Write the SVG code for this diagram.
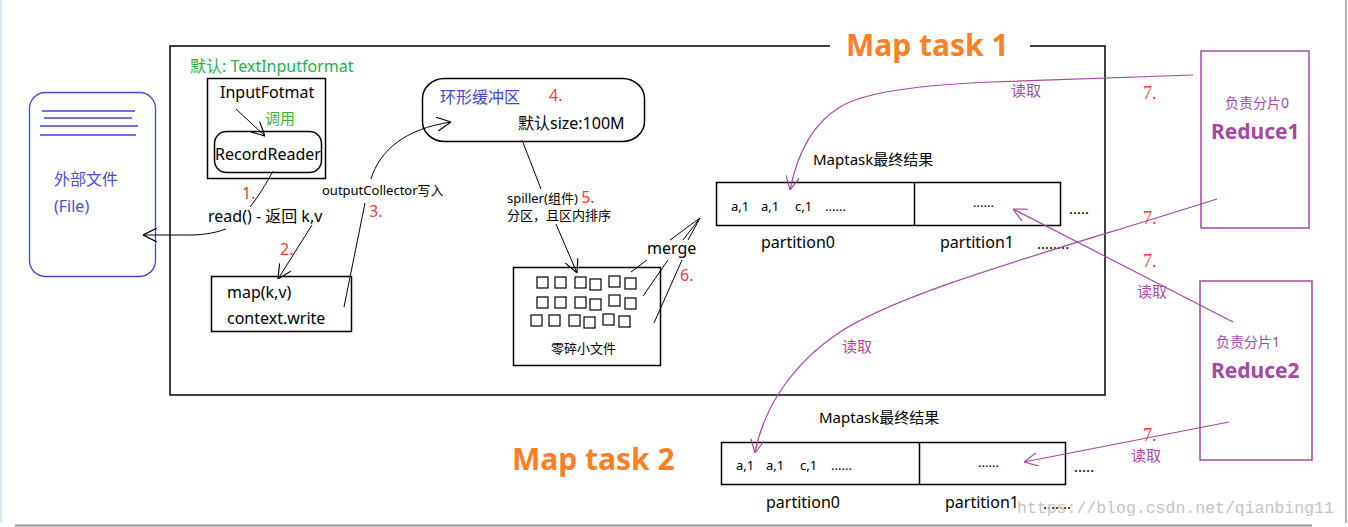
<svg xmlns="http://www.w3.org/2000/svg" width="1348" height="527" viewBox="0 0 1348 527">
<style>
.t{font-family:"Noto Sans","Noto Sans CJK SC",sans-serif;fill:#000}
.box{fill:none;stroke:#000;stroke-width:1.5}
.ln{fill:none;stroke:#000;stroke-width:1}
.pl{fill:none;stroke:#A349A4;stroke-width:1.2}
.pbox{fill:none;stroke:#A349A4;stroke-width:1.5}
.red{font-family:"Noto Sans",sans-serif;fill:#EF3B3B;font-size:16px}
.red7{font-family:"Liberation Serif",serif;fill:#EF3B3B;font-size:18px}
.rd{font-family:"Noto Sans CJK SC",sans-serif;fill:#A349A4;font-size:15px}
.org{font-family:"Noto Sans",sans-serif;font-weight:bold;fill:#FF7F27;font-size:30px}
.sq{fill:#fff;stroke:#000;stroke-width:1.2}
</style>
<defs>
<marker id="ak" markerUnits="userSpaceOnUse" markerWidth="14" markerHeight="14" viewBox="0 0 12 12" refX="12" refY="6" orient="auto">
<path d="M0,0 L12,6 L0,12" fill="none" stroke="#000" stroke-width="1"/>
</marker>
<marker id="ap" markerUnits="userSpaceOnUse" markerWidth="14" markerHeight="14" viewBox="0 0 12 12" refX="12" refY="6" orient="auto">
<path d="M0,0 L12,6 L0,12" fill="none" stroke="#A349A4" stroke-width="1"/>
</marker>
</defs>
<rect x="0" y="0" width="1348" height="527" fill="#fff"/>
<rect x="0" y="0" width="2" height="523" fill="#dce6f2"/>
<line x1="15" y1="525.5" x2="1312" y2="525.5" stroke="#9a9a9a" stroke-width="2"/>
<line x1="1346" y1="0" x2="1346" y2="523" stroke="#b0b0b0" stroke-width="2"/>

<g id="maptask1-frame">
<path class="box" d="M830,46 L170,46 L170,395 L1105,395 L1105,46 L1030,46"/>
<text class="org" x="846" y="56">Map task 1</text>
<text class="t" x="190" y="72" font-size="16" style="fill:#22B14C">默认: TextInputformat</text>
</g>

<g id="maptask2-title">
<text class="org" x="512" y="470">Map task 2</text>
</g>

<g id="external-file">
<rect x="29.5" y="92.5" width="126" height="184" rx="16" fill="none" stroke="#3F48CC" stroke-width="1.3"/>
<path d="M42,111 H135 M44,118 H132 M40,126 H138 M40,135 H136" stroke="#3F48CC" stroke-width="1.3" fill="none"/>
<text class="t" x="54" y="185" font-size="16" style="fill:#4D4DD0">外部文件</text>
<text class="t" x="54" y="212" font-size="16" style="fill:#4D4DD0">(File)</text>
</g>

<g id="inputformat">
<rect class="box" x="207.5" y="78.5" width="118" height="100"/>
<text class="t" x="220" y="98" font-size="16">InputFotmat</text>
<text class="t" x="265" y="124" font-size="15" style="fill:#3CB043">调用</text>
</g>

<g id="recordreader">
<rect class="box" x="214.5" y="131.5" width="107" height="41" rx="12"/>
<text class="t" x="215" y="160" font-size="16">RecordReader</text>
</g>

<g id="read-label">
<text class="t" x="208" y="222" font-size="16">read() - 返回 k,v</text>
</g>

<g id="map">
<rect class="box" x="211.5" y="276.5" width="140" height="55"/>
<text class="t" x="227" y="298" font-size="16">map(k,v)</text>
<text class="t" x="227" y="324" font-size="16">context.write</text>
</g>

<g id="ring-buffer">
<rect class="box" x="422.5" y="78.5" width="222" height="63" rx="22" ry="20"/>
<text class="t" x="440" y="103" font-size="16" style="fill:#3F48CC">环形缓冲区</text>
<text class="t" x="518" y="129" font-size="16">默认size:100M</text>
</g>

<g id="small-files">
<rect class="box" x="513.5" y="267.5" width="147" height="98"/>
<rect class="sq" x="537" y="277" width="11" height="11"/>
<rect class="sq" x="555" y="277" width="11" height="11"/>
<rect class="sq" x="575" y="277" width="11" height="11"/>
<rect class="sq" x="590" y="279" width="11" height="11"/>
<rect class="sq" x="609" y="276" width="11" height="11"/>
<rect class="sq" x="625" y="278" width="11" height="11"/>
<rect class="sq" x="537" y="297" width="11" height="11"/>
<rect class="sq" x="555" y="297" width="11" height="11"/>
<rect class="sq" x="575" y="297" width="11" height="11"/>
<rect class="sq" x="590" y="299" width="11" height="11"/>
<rect class="sq" x="609" y="295" width="11" height="11"/>
<rect class="sq" x="625" y="298" width="11" height="11"/>
<rect class="sq" x="531" y="315" width="11" height="11"/>
<rect class="sq" x="549" y="315" width="11" height="11"/>
<rect class="sq" x="569" y="315" width="11" height="11"/>
<rect class="sq" x="584" y="317" width="11" height="11"/>
<rect class="sq" x="603" y="314" width="11" height="11"/>
<rect class="sq" x="619" y="316" width="11" height="11"/>
<text class="t" x="551" y="353" font-size="13">零碎小文件</text>
</g>

<g id="result1">
<text class="t" x="813" y="165" font-size="15">Maptask最终结果</text>
<rect class="box" x="716.5" y="182.5" width="344" height="43"/>
<line class="box" x1="914.5" y1="182.5" x2="914.5" y2="225.5"/>
<text class="t" x="731" y="211" font-size="13">a,1</text>
<text class="t" x="761" y="211" font-size="13">a,1</text>
<text class="t" x="795" y="211" font-size="13">c,1</text>
<text class="t" x="825" y="211" font-size="13">......</text>
<text class="t" x="973" y="207" font-size="13">......</text>
<text class="t" x="1069" y="214" font-size="15">.....</text>
<text class="t" x="761" y="248" font-size="16">partition0</text>
<text class="t" x="940" y="248" font-size="16">partition1</text>
<text class="t" x="1037" y="249" font-size="15">........</text>
</g>

<g id="result2">
<text class="t" x="819" y="423" font-size="15">Maptask最终结果</text>
<rect class="box" x="721.5" y="442.5" width="344" height="42"/>
<line class="box" x1="919.5" y1="442.5" x2="919.5" y2="484.5"/>
<text class="t" x="736" y="470" font-size="13">a,1</text>
<text class="t" x="766" y="470" font-size="13">a,1</text>
<text class="t" x="800" y="470" font-size="13">c,1</text>
<text class="t" x="831" y="470" font-size="13">......</text>
<text class="t" x="978" y="467" font-size="13">......</text>
<text class="t" x="1074" y="472" font-size="15">.....</text>
<text class="t" x="766" y="508" font-size="16">partition0</text>
<text class="t" x="945" y="508" font-size="16">partition1</text>
<text class="t" x="1043" y="509" font-size="15">.......</text>
</g>

<g id="reduce1">
<rect class="pbox" x="1201" y="51" width="108" height="177"/>
<text class="t" x="1225" y="108" font-size="14" style="fill:#A349A4">负责分片0</text>
<text class="t" x="1211" y="139" font-size="21" font-weight="bold" style="fill:#A349A4">Reduce1</text>
</g>

<g id="reduce2">
<rect class="pbox" x="1200" y="281" width="112" height="179"/>
<text class="t" x="1216" y="347" font-size="14" style="fill:#A349A4">负责分片1</text>
<text class="t" x="1211" y="378" font-size="21" font-weight="bold" style="fill:#A349A4">Reduce2</text>
</g>

<g id="connectors">
<path class="ln" d="M236,109 L265,136" marker-end="url(#ak)"/>
<path class="ln" d="M273,171 C266,184 258,197 250,207"/>
<path class="ln" d="M226,229 C212,234 200,235 188,235 L143,235" marker-end="url(#ak)"/>
<path class="ln" d="M312,225 L278,279" marker-end="url(#ak)"/>
<path class="ln" d="M344,307 L365,203"/>
<path class="ln" d="M371,179 C380,150 405,129 451,122" marker-end="url(#ak)"/>
<path class="ln" d="M522,140 L541,189"/>
<path class="ln" d="M556,224 L577,273" marker-end="url(#ak)"/>
<path class="ln" d="M631,272 L647,260 M643,296 L668,260 M654,323 L682,260"/>
<path class="ln" d="M670,240 L700,218 M683,240 L700,218 M688,240 L700,218"/>
<path class="pl" d="M1193,75 L990,82 C900,86 860,95 840,107 C815,122 798,150 790,190" marker-end="url(#ap)"/>
<path class="pl" d="M1217,199 C1050,252 905,290 840,332 C795,362 764,405 755,453" marker-end="url(#ap)"/>
<path class="pl" d="M1233,322 L1013,209" marker-end="url(#ap)"/>
<path class="pl" d="M1229,422 L1024,462" marker-end="url(#ap)"/>
</g>

<g id="labels">
<text class="red" x="242" y="199">1.</text>
<text class="red" x="280" y="255">2.</text>
<text class="t" x="322" y="195" font-size="13">outputCollector写入</text>
<text class="red" x="369" y="217">3.</text>
<text class="red" x="549" y="101">4.</text>
<text class="t" x="507" y="203" font-size="13">spiller(组件) <tspan class="red">5.</tspan></text>
<text class="t" x="507" y="220" font-size="13">分区，且区内排序</text>
<text class="t" x="647" y="254" font-size="16">merge</text>
<text class="red" x="680" y="281">6.</text>
<text class="rd" x="1011" y="96">读取</text>
<text class="red7" x="1143" y="99">7.</text>
<text class="red7" x="1143" y="224">7.</text>
<text class="red7" x="1143" y="267">7.</text>
<text class="rd" x="1137" y="297">读取</text>
<text class="rd" x="842" y="352">读取</text>
<text class="red7" x="1143" y="441">7.</text>
<text class="rd" x="1131" y="461">读取</text>
<text x="1017" y="513" font-family="Liberation Mono,monospace" font-size="16.5" fill="#c4c4c4">https://blog.csdn.net/qianbing11</text>
</g>
</svg>
